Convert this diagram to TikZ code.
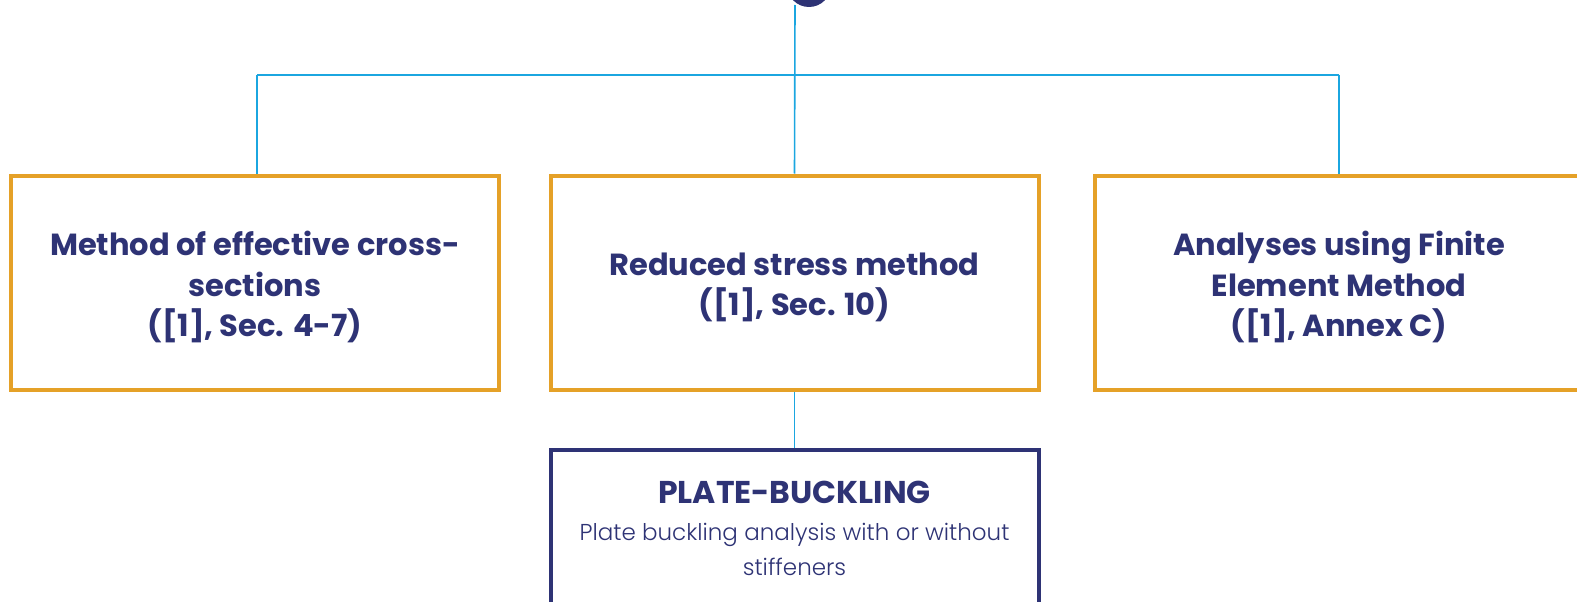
\documentclass[tikz,border=0pt]{standalone}
\usepackage{fontspec}
\setmainfont{Poppins}
\newfontfamily\lightfont{Poppins Light}
\definecolor{navy}{HTML}{2E3375}
\definecolor{gold}{HTML}{E5A128}
\definecolor{cyanline}{HTML}{1BA6E0}
\begin{document}
\begin{tikzpicture}[x=1pt,y=-1pt,
  method/.style={draw=gold,line width=4pt,fill=white,minimum width=488pt,minimum height=214pt,inner sep=0pt},
  methodtext/.style={align=center,text=navy,font=\fontsize{30.5}{40.5}\selectfont\bfseries,inner sep=0pt},
  tool/.style={draw=navy,line width=4pt,fill=white,minimum width=488pt,minimum height=214pt,inner sep=0pt},
  toolhead/.style={text=navy,font=\fontsize{31.5}{34}\selectfont\bfseries,inner sep=0pt},
  tooltext/.style={text=navy,align=center,font=\lightfont\fontsize{23}{35}\selectfont,inner sep=0pt},
  link/.style={draw=cyanline,line width=1.6pt}]
\useasboundingbox (0,0) rectangle (1577,602);
\clip (0,0) rectangle (1577,602);
\node[circle,fill=navy,minimum size=44pt,inner sep=0pt] (top) at (809,-15) {};
\coordinate (lb) at (257,75);
\coordinate (rb) at (1339,75);
\node[method] (m1) at (255,282.5) {};
\node[method] (m2) at (794.5,282.5) {};
\node[method] (m3) at (1339,282.5) {};
\node[methodtext] (m1t) at (255,287) {Method of effective cross-\\sections\\([1], Sec. 4-7)};
\node[methodtext] (m2t) at (794.5,287.5) {Reduced stress method\\([1], Sec. 10)};
\node[methodtext] (m3t) at (1339,287) {Analyses using Finite\\Element Method\\([1], Annex C)};
\node[tool,anchor=north] (pb) at (794.5,448) {};
\node[toolhead] (pbh) at (794.5,492) {PLATE-BUCKLING};
\node[tooltext] (pbt) at (794.5,549.5) {Plate buckling analysis with or without\\stiffeners};
\draw[link] (795,5) -- (m2.north);
\draw[link] (lb) -- (rb);
\draw[link] (lb) -- (lb |- m1.north);
\draw[link] (rb) -- (rb |- m3.north);
\draw[link] (m2.south) -- (pb.north);
\end{tikzpicture}
\end{document}
